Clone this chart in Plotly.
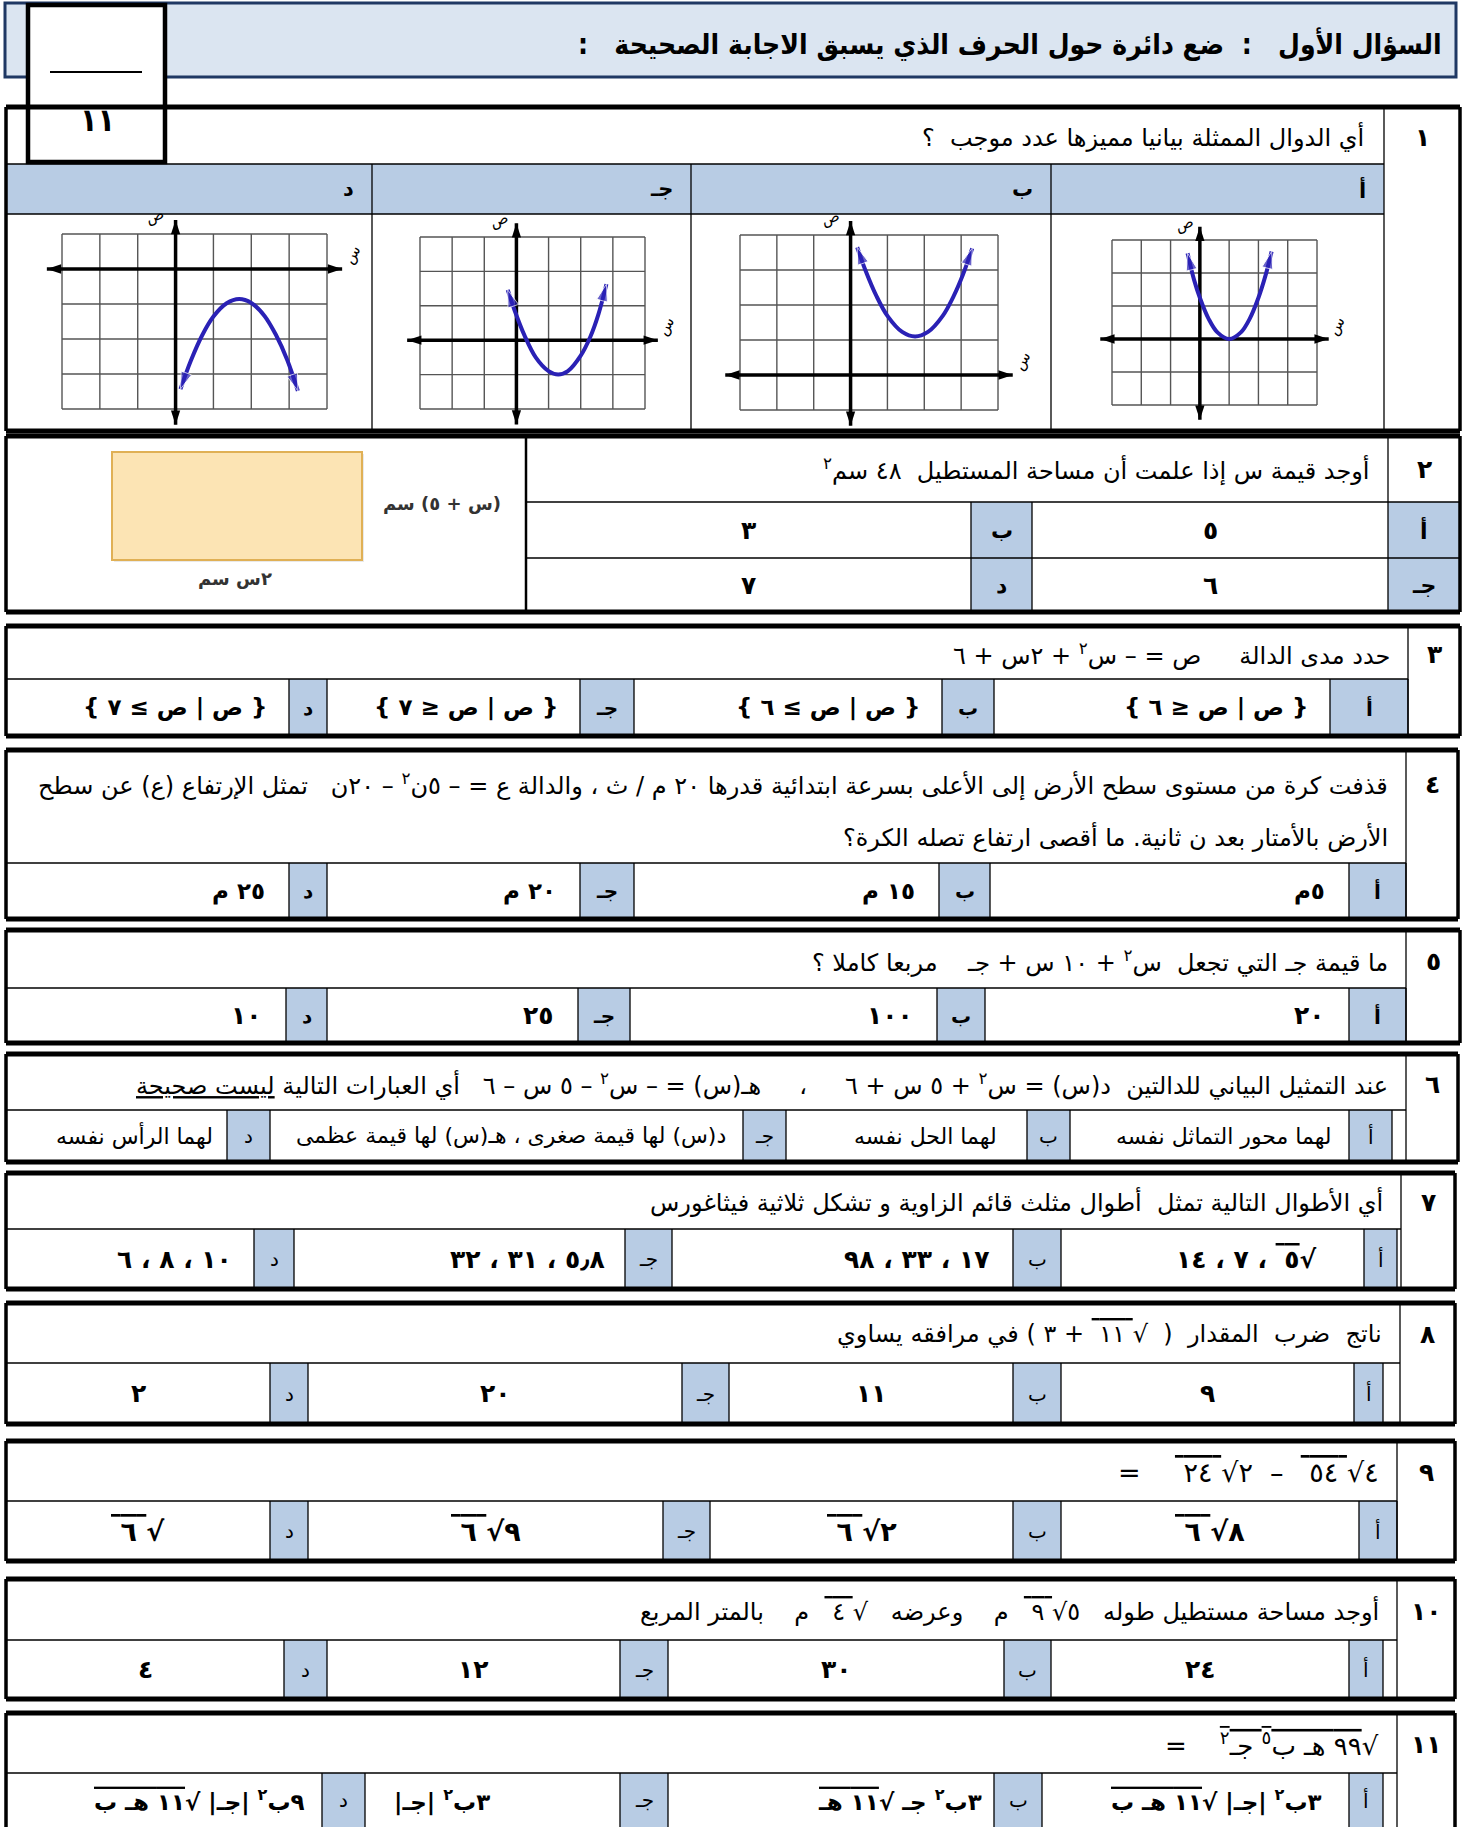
import plotly.graph_objects as go

W, H = 1482, 1827
FONT = "DejaVu Sans, sans-serif"
FONT_C = "DejaVu Sans Condensed, DejaVu Sans, sans-serif"
BLUE = "#b8cce4"
HEAD_FILL = "#dbe5f1"
NAVY = "#1f3864"
CURVE = "#2a21b5"
RLM = "\u200f"
OV = "<span style='text-decoration:overline'>"
OE = "</span>"

# ---------------- data ----------------
title_text = "السؤال الأول   :  ضع دائرة حول الحرف الذي يسبق الاجابة الصحيحة   :"
score_text = "١١"
letters = ["أ", "ب", "جـ", "د"]
q_numbers = ["١", "٢", "٣", "٤", "٥", "٦", "٧", "٨", "٩", "١٠", "١١"]

q1_text = "أي الدوال الممثلة بيانيا مميزها عدد موجب  ؟"
q2_text = "أوجد قيمة س إذا علمت أن مساحة المستطيل  ٤٨ سم<sup>٢</sup>"
q2_options = ["٥", "٣", "٦", "٧"]
q2_side_label = "(س + ٥) سم"
q2_bottom_label = "٢س سم"

q3_text = ["حدد مدى الدالة     ص = – س<sup>٢</sup> + ٢س + ٦"]
q3_options = ["{ ص | ص ≤ ٦ }", "{ ص | ص ≥ ٦ }", "{ ص | ص ≤ ٧ }", "{ ص | ص ≥ ٧ }"]
q4_text = ["قذفت كرة من مستوى سطح الأرض إلى الأعلى بسرعة ابتدائية قدرها ٢٠ م / ث ، والدالة ع = – ٥ن<sup>٢</sup> – ٢٠ن   تمثل الإرتفاع (ع) عن سطح",
           "الأرض بالأمتار بعد ن ثانية. ما أقصى ارتفاع تصله الكرة؟"]
q4_options = ["٥م", "١٥ م", "٢٠ م", "٢٥ م"]
q5_text = ["ما قيمة جـ التي تجعل  س<sup>٢</sup> + ١٠ س + جـ    مربعا كاملا ؟"]
q5_options = ["٢٠", "١٠٠", "٢٥", "١٠"]
q6_text = ["عند التمثيل البياني للدالتين  د(س) = س<sup>٢</sup> + ٥ س + ٦     ،     هـ(س) = – س<sup>٢</sup> – ٥ س – ٦   أي العبارات التالية <span style='text-decoration:underline'>ليست صحيحة</span>"]
q6_options = ["لهما محور التماثل نفسه", "لهما الحل نفسه", "د(س) لها قيمة صغرى ، هـ(س) لها قيمة عظمى", "لهما الرأس نفسه"]
q7_text = ["أي الأطوال التالية تمثل  أطوال مثلث قائم الزاوية و تشكل ثلاثية فيثاغورس"]
q7_options = ["√" + OV + "٥ " + OE + " ، ٧ ، ١٤", "١٧ ، ٣٣ ، ٩٨", "٥٫٨ ، ٣١ ، ٣٢", "١٠ ، ٨ ، ٦"]
q8_text = ["ناتج  ضرب  المقدار  (  √" + OV + " ١١ " + OE + " + ٣ ) في مرافقه يساوي"]
q8_options = ["٩", "١١", "٢٠", "٢"]
q9_text = ["٤√" + OV + " ٥٤ " + OE + "  –  ٢√" + OV + " ٢٤ " + OE + "    ="]
q9_options = ["٨√" + OV + " ٦ " + OE, "٢√" + OV + " ٦ " + OE, "٩√" + OV + " ٦ " + OE, "√" + OV + " ٦ " + OE]
q10_text = ["أوجد مساحة مستطيل طوله   ٥√" + OV + " ٩ " + OE + "  م    وعرضه   √" + OV + " ٤ " + OE + "  م    بالمتر المربع"]
q10_options = ["٢٤", "٣٠", "١٢", "٤"]
q11_text = ["√" + OV + "٩٩ هـ ب<sup>٥</sup> جـ<sup>٢</sup>" + OE + "    ="]
q11_options = ["٣ب<sup>٢</sup> |جـ| √" + OV + "١١ هـ ب" + OE,
               "٣ب<sup>٢</sup> جـ √" + OV + "١١ هـ" + OE,
               "٣ب<sup>٢</sup> |جـ|",
               "٩ب<sup>٢</sup> |جـ| √" + OV + "١١ هـ ب" + OE]

# Q1 graph curves, grid y-ranges
graph_a_x = [-0.42, -0.2, 0.0, 0.3, 0.6, 1.0, 1.4, 1.7, 2.0, 2.25, 2.45]
graph_a_y = [2.6, 1.8, 1.25, 0.61, 0.2, 0.0, 0.2, 0.61, 1.25, 1.95, 2.65]
graph_b_x = [0.18, 0.4, 0.7, 1.0, 1.4, 1.75, 2.1, 2.5, 2.8, 3.05, 3.3]
graph_b_y = [3.65, 3.0, 2.26, 1.69, 1.23, 1.1, 1.23, 1.69, 2.26, 2.87, 3.62]
graph_c_x = [-0.27, -0.05, 0.25, 0.6, 1.0, 1.3, 1.6, 2.0, 2.3, 2.55, 2.8]
graph_c_y = [1.46, 0.85, 0.14, -0.5, -0.9, -1.0, -0.9, -0.45, 0.1, 0.75, 1.63]
graph_d_x = [0.13, 0.4, 0.7, 1.0, 1.35, 1.68, 2.0, 2.35, 2.65, 2.95, 3.23]
graph_d_y = [-3.43, -2.63, -1.9, -1.36, -0.98, -0.86, -0.97, -1.34, -1.88, -2.6, -3.48]
graph_y_ranges = [(-2, 3), (-1, 4), (-2, 3), (-4, 1)]

# ---------------- helpers ----------------
fills, lines, annotations = [], [], []


def rect(x0, y0, x1, y1, fill, lw=0, lc="black"):
    fills.append(dict(type="rect", xref="x", yref="y", x0=x0, x1=x1, y0=y0, y1=y1,
                      fillcolor=fill, line=dict(width=lw, color=lc), layer="below"))


def seg(x0, y0, x1, y1, w=1.3, c="black"):
    lines.append(dict(type="line", xref="x", yref="y", x0=x0, x1=x1, y0=y0, y1=y1,
                      line=dict(width=w, color=c), layer="below"))


def txt(x, y, s, size=23, bold=False, anchor="right", color="black", angle=0, xref="x", yref="y", family=FONT):
    if bold:
        s = "<b>" + s + "</b>"
    annotations.append(dict(x=x, y=y, xref=xref, yref=yref, text=RLM + s + RLM, showarrow=False,
                            xanchor=anchor, yanchor="middle", textangle=angle,
                            font=dict(family=family, size=size, color=color)))


def outer(top, bot, left, right):
    seg(left, top, right, top, 5)
    seg(left, bot, right, bot, 5)
    seg(left, top, left, bot, 3.5)
    seg(right, top, right, bot, 3.5)


QSIZE = 24
OSIZE = 23
NSIZE = 25

# ---------------- header ----------------
rect(5, 3, 1456, 77, HEAD_FILL, 3, NAVY)
txt(1444, 44, title_text, size=28, bold=True, family=FONT_C)

# ---------------- Q1 ----------------
Q1 = dict(top=107, mid1=164, mid2=214, bot=431, right=1460, num=1384, cols=[372, 691, 1051])
rect(6, Q1["mid1"], Q1["num"], Q1["mid2"], BLUE)
seg(6, Q1["mid1"], Q1["num"], Q1["mid1"])
seg(6, Q1["mid2"], Q1["num"], Q1["mid2"])
seg(Q1["num"], Q1["top"], Q1["num"], Q1["bot"])
for cx in Q1["cols"]:
    seg(cx, Q1["mid1"], cx, Q1["bot"])
outer(Q1["top"], Q1["bot"], 6, Q1["right"])
txt((Q1["num"] + Q1["right"]) / 2, 137, q_numbers[0], size=NSIZE, bold=True, anchor="center")
txt(Q1["num"] - 18, 137, q1_text, size=QSIZE)
cell_rights = [Q1["num"], Q1["cols"][2], Q1["cols"][1], Q1["cols"][0]]
for k, L in enumerate(letters):
    txt(cell_rights[k] - 16, 189, L, size=21, bold=True)

# ---------------- Q2 ----------------
Q2 = dict(top=436, r1=502, r2=558, bot=612, right=1460, num=1388, b0=971, b1=1032, img=526)
rect(Q2["num"], Q2["r1"], Q2["right"], Q2["bot"], BLUE)
rect(Q2["b0"], Q2["r1"], Q2["b1"], Q2["bot"], BLUE)
seg(Q2["img"], Q2["r1"], Q2["right"], Q2["r1"])
seg(Q2["img"], Q2["r2"], Q2["right"], Q2["r2"])
seg(Q2["img"], Q2["top"], Q2["img"], Q2["bot"], 2.5)
seg(Q2["num"], Q2["top"], Q2["num"], Q2["bot"])
seg(Q2["b0"], Q2["r1"], Q2["b0"], Q2["bot"])
seg(Q2["b1"], Q2["r1"], Q2["b1"], Q2["bot"])
outer(Q2["top"], Q2["bot"], 6, Q2["right"])
txt((Q2["num"] + Q2["right"]) / 2, 469, q_numbers[1], size=NSIZE, bold=True, anchor="center")
txt(Q2["num"] - 16, 469, q2_text, size=QSIZE)
yr1 = (Q2["r1"] + Q2["r2"]) / 2
yr2 = (Q2["r2"] + Q2["bot"]) / 2
txt((Q2["num"] + Q2["right"]) / 2, yr1, letters[0], size=22, bold=True, anchor="center")
txt((Q2["b0"] + Q2["b1"]) / 2, yr1, letters[1], size=22, bold=True, anchor="center")
txt((Q2["num"] + Q2["right"]) / 2, yr2, letters[2], size=22, bold=True, anchor="center")
txt((Q2["b0"] + Q2["b1"]) / 2, yr2, letters[3], size=22, bold=True, anchor="center")
txt((Q2["b1"] + Q2["num"]) / 2, yr1, q2_options[0], size=NSIZE, bold=True, anchor="center")
txt((Q2["img"] + Q2["b0"]) / 2, yr1, q2_options[1], size=NSIZE, bold=True, anchor="center")
txt((Q2["b1"] + Q2["num"]) / 2, yr2, q2_options[2], size=NSIZE, bold=True, anchor="center")
txt((Q2["img"] + Q2["b0"]) / 2, yr2, q2_options[3], size=NSIZE, bold=True, anchor="center")
# picture: rectangle with side labels
rect(114, 454, 364, 562, "#e9e9e9")
rect(112, 452, 362, 560, "#fce4b4", 2, "#e0b055")
txt(442, 503, q2_side_label, size=18, bold=True, anchor="center", color="#333333")
txt(235, 578, q2_bottom_label, size=18, bold=True, anchor="center", color="#333333")

# ---------------- Q3..Q11 generic blocks ----------------
blocks = [
    dict(n=2, top=626, mid=679, bot=736, right=1460, num=1408, bounds=[6, 289, 327, 580, 634, 942, 994, 1330, 1408],
         text=q3_text, ty=[654], tsize=QSIZE, opts=q3_options, osize=OSIZE, align="right", pads=[20, 20, 20, 20], ob=True, lb=True),
    dict(n=3, top=750, mid=863, bot=919, right=1458, num=1406, bounds=[6, 289, 327, 580, 634, 939, 990, 1349, 1406],
         text=q4_text, ty=[784, 837], tsize=QSIZE, opts=q4_options, osize=OSIZE, align="right", pads=[22, 22, 22, 22], ob=True, lb=True),
    dict(n=4, top=930, mid=988, bot=1043, right=1460, num=1406, bounds=[6, 286, 327, 578, 630, 937, 985, 1349, 1406],
         text=q5_text, ty=[961], tsize=QSIZE, opts=q5_options, osize=NSIZE, align="right", pads=[22, 22, 22, 22], ob=True, lb=True),
    dict(n=5, top=1054, mid=1110, bot=1162, right=1458, num=1406, bounds=[6, 227, 270, 743, 786, 1027, 1070, 1349, 1392],
         text=q6_text, ty=[1084], tsize=QSIZE, opts=q6_options, osize=22, align="right", pads=[15, 28, 15, 12], ob=False, lb=False),
    dict(n=6, top=1173, mid=1229, bot=1289, right=1455, num=1401, bounds=[6, 254, 294, 625, 672, 1013, 1061, 1364, 1397],
         text=q7_text, ty=[1202], tsize=QSIZE, opts=q7_options, osize=NSIZE, align="right", pads=[45, 22, 18, 20], ob=True, lb=False),
    dict(n=7, top=1303, mid=1363, bot=1424, right=1455, num=1400, bounds=[6, 270, 308, 682, 729, 1013, 1061, 1354, 1383],
         text=q8_text, ty=[1334], tsize=QSIZE, opts=q8_options, osize=NSIZE, align="center", pads=[0, 0, 0, 0], ob=True, lb=False),
    dict(n=8, top=1441, mid=1501, bot=1561, right=1455, num=1397, bounds=[6, 270, 308, 663, 710, 1013, 1061, 1359, 1397],
         text=q9_text, ty=[1472], tsize=27, opts=q9_options, osize=27, align="center", pads=[0, 0, 0, 0], ob=True, lb=False),
    dict(n=9, top=1579, mid=1640, bot=1699, right=1455, num=1397, bounds=[6, 284, 327, 620, 668, 1004, 1051, 1349, 1383],
         text=q10_text, ty=[1611], tsize=QSIZE, opts=q10_options, osize=NSIZE, align="center", pads=[0, 0, 0, 0], ob=True, lb=False),
    dict(n=10, top=1713, mid=1773, bot=1835, right=1455, num=1397, bounds=[6, 322, 365, 620, 668, 994, 1042, 1349, 1383],
         text=q11_text, ty=[1744], tsize=26, opts=q11_options, osize=OSIZE, align="right", pads=[25, 10, 128, 15], ob=True, lb=False),
]

for b in blocks:
    bd = b["bounds"]
    top, mid, bot = b["top"], b["mid"], b["bot"]
    blue_cells = [(bd[7], bd[8]), (bd[5], bd[6]), (bd[3], bd[4]), (bd[1], bd[2])]  # a, b, c, d
    text_cells = [(bd[6], bd[7]), (bd[4], bd[5]), (bd[2], bd[3]), (bd[0], bd[1])]
    for (x0, x1) in blue_cells:
        rect(x0, mid, x1, bot, BLUE)
    seg(6, mid, b["num"], mid)
    seg(b["num"], top, b["num"], bot)
    for x in bd[1:]:
        seg(x, mid, x, bot)
    outer(top, bot, 6, b["right"])
    txt((b["num"] + b["right"]) / 2, b["ty"][0], q_numbers[b["n"]], size=NSIZE, bold=True, anchor="center")
    for line_text, ty in zip(b["text"], b["ty"]):
        txt(b["num"] - 16, ty, line_text, size=b["tsize"])
    yo = (mid + min(bot, H)) / 2
    for k in range(4):
        x0, x1 = blue_cells[k]
        txt((x0 + x1) / 2, yo, letters[k], size=20, bold=b["lb"], anchor="center")
        t0, t1 = text_cells[k]
        if b["align"] == "center":
            txt((t0 + t1) / 2, yo, b["opts"][k], size=b["osize"], bold=b["ob"], anchor="center")
        else:
            txt(t1 - b["pads"][k], yo, b["opts"][k], size=b["osize"], bold=b["ob"], anchor="right")

# ---------------- score box ----------------
rect(28, 5, 165, 162, "white", 4.5, "black")
seg(50, 72, 142, 72, 2)
txt(97, 120, score_text, size=32, bold=True, anchor="center", family=FONT_C)

# ---------------- figure ----------------
fig = go.Figure()

# Q1 graphs as small subplots: grid px boxes (x0, x1, ytop, ybottom)
graph_boxes = [(1112, 1317, 240, 405), (740, 998, 235, 410), (420, 645, 237, 409), (62, 327, 234, 409)]
graph_curves = [(graph_a_x, graph_a_y), (graph_b_x, graph_b_y), (graph_c_x, graph_c_y), (graph_d_x, graph_d_y)]
layout_axes = {}
for i, ((gx0, gx1, gy0, gy1), (cx, cy), (ymin, ymax)) in enumerate(zip(graph_boxes, graph_curves, graph_y_ranges)):
    idx = i + 2
    xa, ya = "x%d" % idx, "y%d" % idx
    ux = (gx1 - gx0) / 7.0
    uy = (gy1 - gy0) / 5.0
    xpad_l, xpad_r, ypad_t, ypad_b = 0.8, 0.8, 0.6, 0.7
    dom_x = [(gx0 - xpad_l * ux) / W, (gx1 + xpad_r * ux) / W]
    dom_y = [1 - (gy1 + ypad_b * uy) / H, 1 - (gy0 - ypad_t * uy) / H]
    layout_axes["xaxis%d" % idx] = dict(domain=dom_x, range=[-3 - xpad_l, 4 + xpad_r], anchor=ya, visible=False, fixedrange=True)
    layout_axes["yaxis%d" % idx] = dict(domain=dom_y, range=[ymin - ypad_b, ymax + ypad_t], anchor=xa, visible=False, fixedrange=True)
    gxs, gys = [], []
    for gv in range(-3, 5):
        gxs += [gv, gv, None]
        gys += [ymin, ymax, None]
    for gh in range(ymin, ymax + 1):
        gxs += [-3, 4, None]
        gys += [gh, gh, None]
    fig.add_trace(go.Scatter(x=gxs, y=gys, mode="lines", line=dict(color="#555555", width=1.4),
                             xaxis=xa, yaxis=ya, hoverinfo="skip", showlegend=False))
    fig.add_trace(go.Scatter(x=[-3.4, 4.4, None, 0, 0], y=[0, 0, None, ymin - 0.45, ymax + 0.4], mode="lines",
                             line=dict(color="black", width=3.5), xaxis=xa, yaxis=ya, hoverinfo="skip", showlegend=False))
    fig.add_trace(go.Scatter(x=[-3.4, 4.4, 0, 0], y=[0, 0, ymin - 0.45, ymax + 0.4], mode="markers",
                             marker=dict(symbol="arrow", size=15, color="black", angle=[270, 90, 180, 0]),
                             cliponaxis=False, xaxis=xa, yaxis=ya, hoverinfo="skip", showlegend=False))
    fig.add_trace(go.Scatter(x=cx, y=cy, mode="lines", line=dict(color=CURVE, width=4, shape="spline"),
                             xaxis=xa, yaxis=ya, hoverinfo="skip", showlegend=False))
    for (p, q) in [(1, 0), (-2, -1)]:
        fig.add_trace(go.Scatter(x=[cx[p], cx[q]], y=[cy[p], cy[q]], mode="markers",
                                 marker=dict(symbol="arrow", size=[0, 18], color=CURVE, angleref="previous"),
                                 cliponaxis=False, xaxis=xa, yaxis=ya, hoverinfo="skip", showlegend=False))
    txt(-0.55, ymax + 0.5, "ص", size=15, anchor="center", angle=-20, xref=xa, yref=ya)
    txt(4.65, 0.4, "س", size=15, anchor="center", angle=-60, xref=xa, yref=ya)

fig.update_layout(
    width=W, height=H, margin=dict(l=0, r=0, t=0, b=0),
    paper_bgcolor="white", plot_bgcolor="rgba(0,0,0,0)",
    xaxis=dict(domain=[0, 1], range=[0, W], visible=False, fixedrange=True),
    yaxis=dict(domain=[0, 1], range=[H, 0], visible=False, fixedrange=True),
    shapes=fills + lines, annotations=annotations, showlegend=False,
    **layout_axes,
)

fig.write_html("out.html", config={"displayModeBar": False},
               post_script="document.body.style.margin='0';document.body.style.overflow='hidden';")
